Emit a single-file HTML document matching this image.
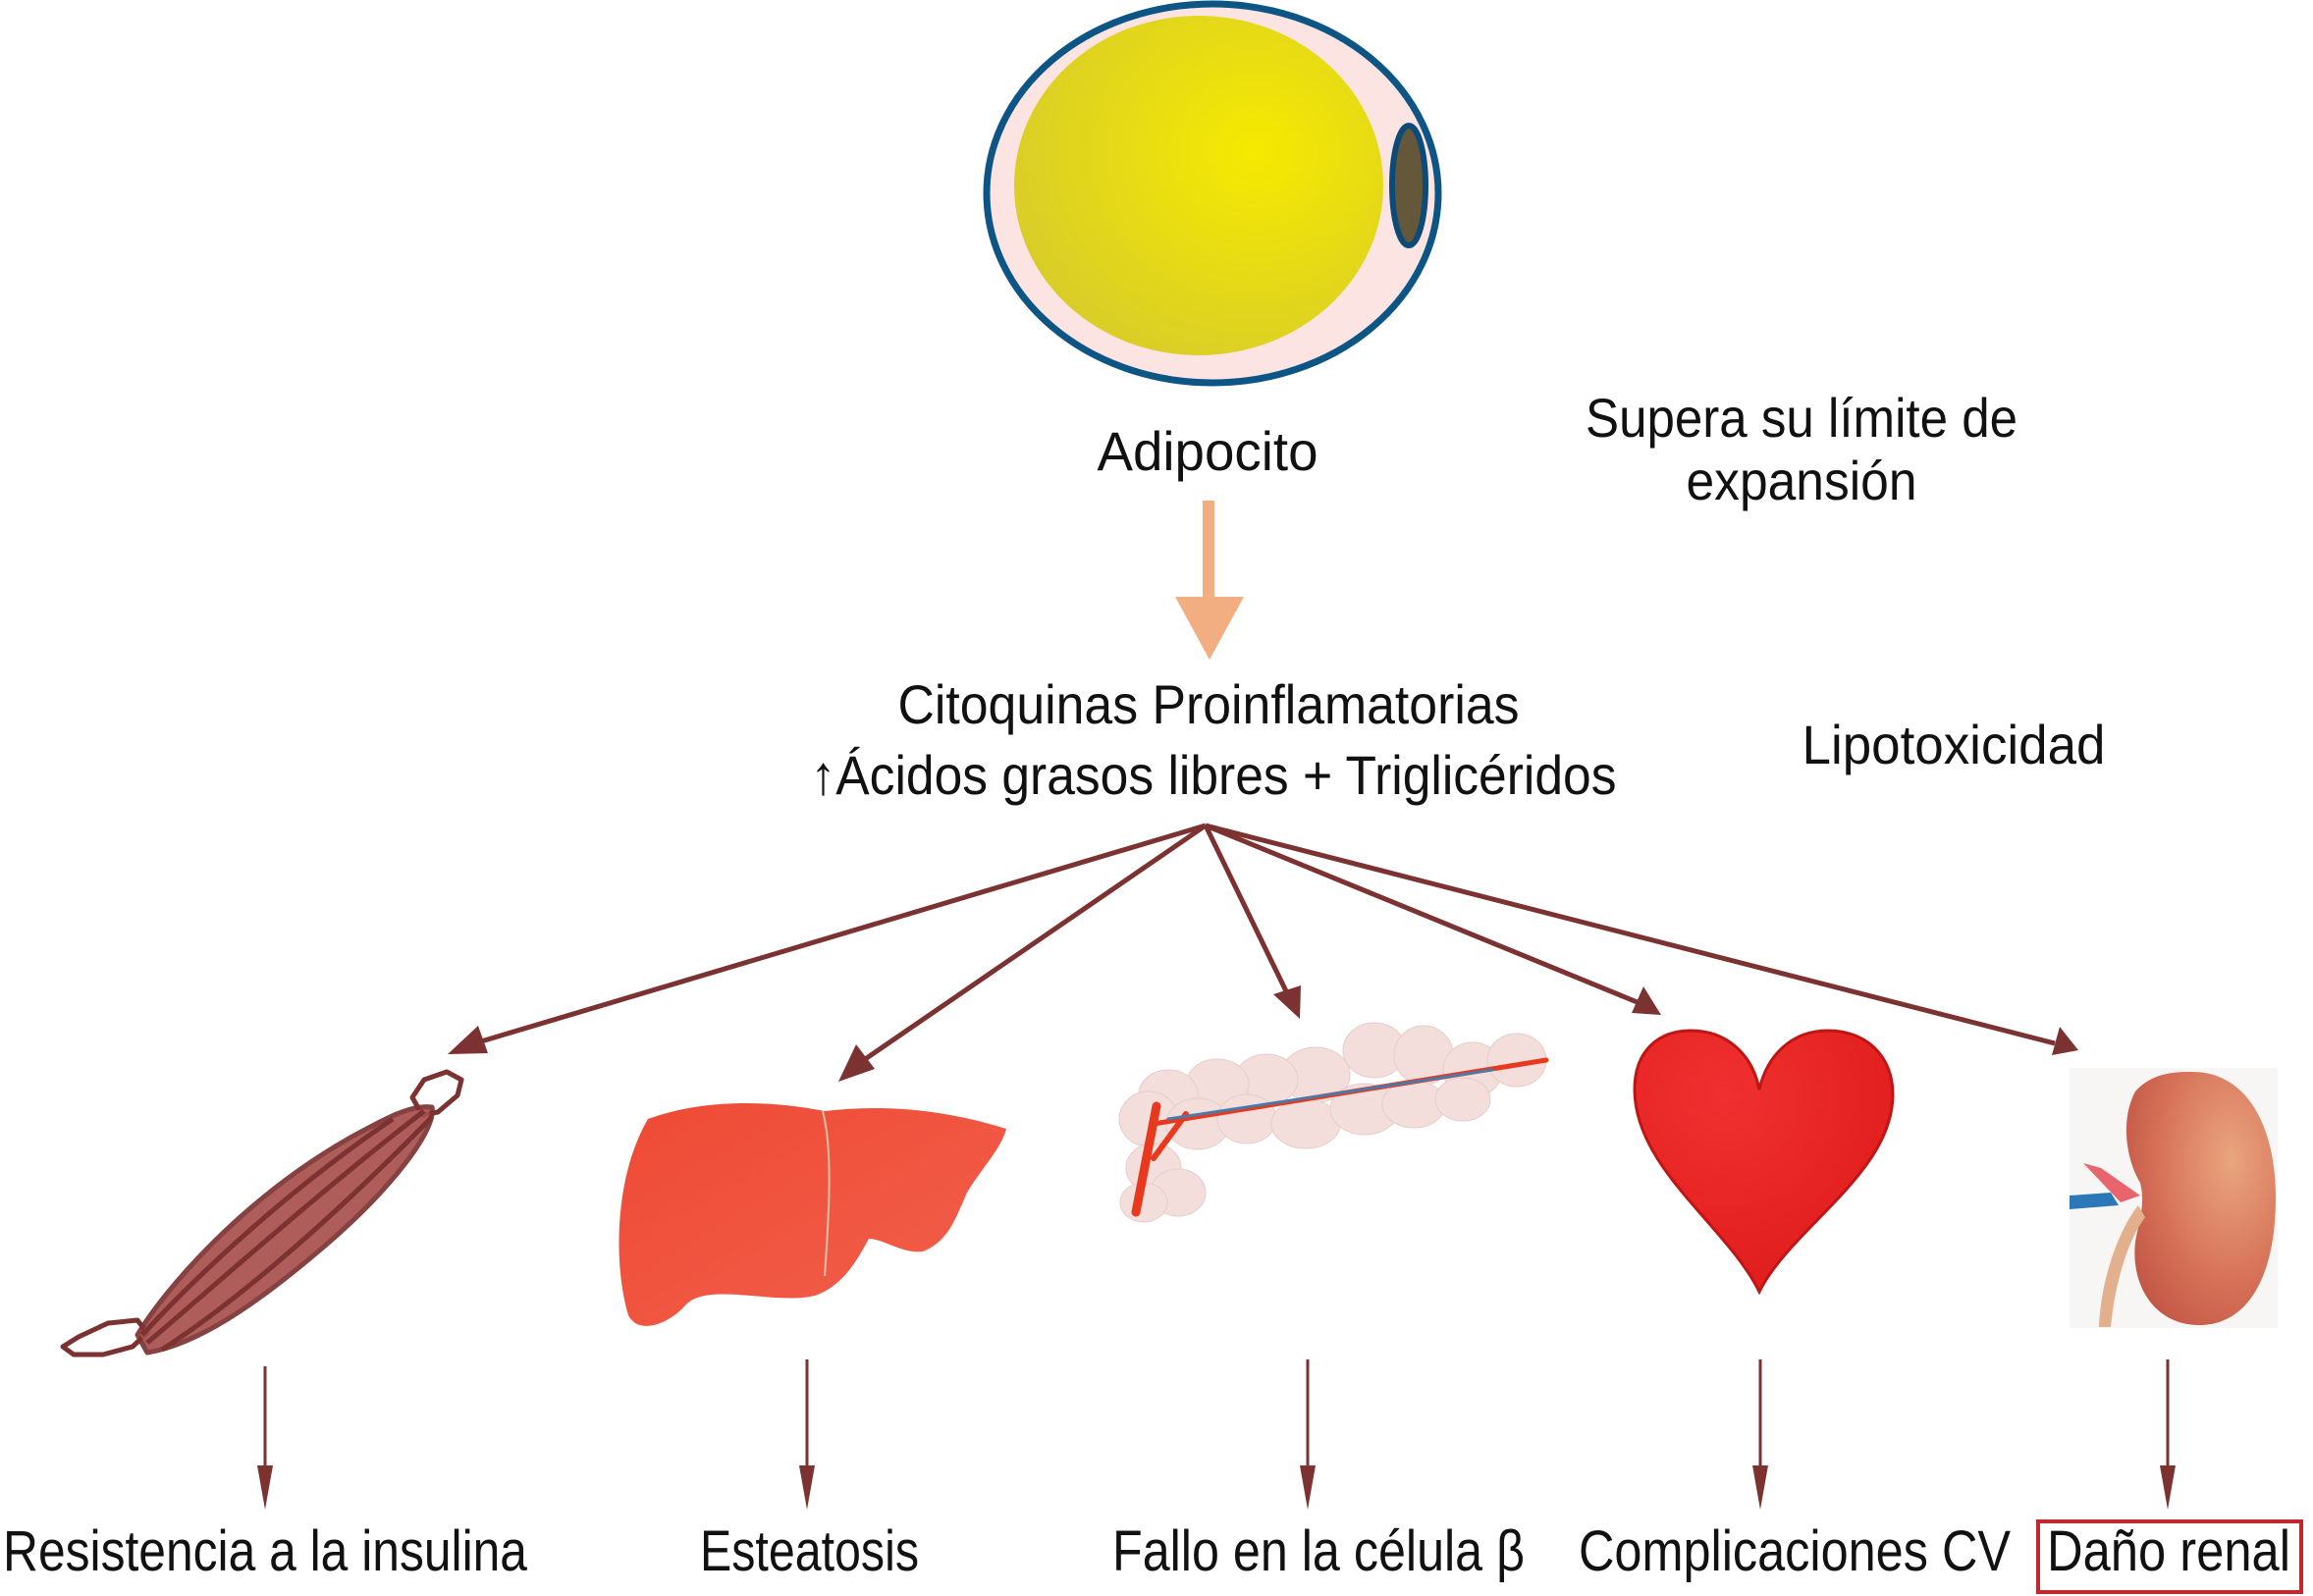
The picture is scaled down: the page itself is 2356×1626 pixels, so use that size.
<!DOCTYPE html>
<html><head><meta charset="utf-8"><style>
html,body{margin:0;padding:0;background:#fff;}
svg{display:block;}
text{font-family:"Liberation Sans",sans-serif;fill:#111;}
</style></head><body>
<svg width="2356" height="1626" viewBox="0 0 2356 1626" xmlns="http://www.w3.org/2000/svg">
<defs>
<radialGradient id="yel" cx="0.65" cy="0.4" r="0.7"><stop offset="0" stop-color="#f5ea00"/><stop offset="1" stop-color="#d8cc2a"/></radialGradient>
<radialGradient id="kid" cx="0.7" cy="0.35" r="0.8"><stop offset="0" stop-color="#e9a57f"/><stop offset="0.6" stop-color="#d67258"/><stop offset="1" stop-color="#c25545"/></radialGradient>
<linearGradient id="liv" x1="0" y1="0" x2="1" y2="1"><stop offset="0" stop-color="#ef4a35"/><stop offset="1" stop-color="#f0604c"/></linearGradient>
<radialGradient id="hrt" cx="0.35" cy="0.25" r="0.8"><stop offset="0" stop-color="#f03030"/><stop offset="1" stop-color="#e01c1c"/></radialGradient>
</defs>

<ellipse cx="1235" cy="197" rx="230" ry="193" fill="#fbe4e2" stroke="#0c5585" stroke-width="7"/>
<ellipse cx="1221" cy="189" rx="188" ry="173" fill="url(#yel)"/>
<ellipse cx="1435" cy="189" rx="17" ry="61" fill="#65583a" stroke="#0c4a78" stroke-width="6"/>

<text x="1230" y="479" font-size="56" text-anchor="middle" textLength="225" lengthAdjust="spacingAndGlyphs">Adipocito</text>
<text x="1835" y="445" font-size="56" text-anchor="middle" textLength="440" lengthAdjust="spacingAndGlyphs">Supera su límite de</text>
<text x="1835" y="509" font-size="56" text-anchor="middle" textLength="235" lengthAdjust="spacingAndGlyphs">expansión</text>

<rect x="1225" y="510" width="12" height="100" fill="#f2ae80"/>
<polygon points="1197,608 1267,608 1232,672" fill="#f2ae80"/>

<text x="1231" y="737" font-size="56" text-anchor="middle" textLength="633" lengthAdjust="spacingAndGlyphs">Citoquinas Proinflamatorias</text>
<text x="1236" y="809" font-size="56" text-anchor="middle" textLength="821" lengthAdjust="spacingAndGlyphs">↑Ácidos grasos libres + Triglicéridos</text>
<text x="1990" y="778" font-size="56" text-anchor="middle" textLength="309" lengthAdjust="spacingAndGlyphs">Lipotoxicidad</text>

<g stroke="#7b3230" stroke-width="5" fill="none">
<line x1="1228" y1="841" x2="480" y2="1064"/>
<line x1="1228" y1="841" x2="874" y2="1084"/>
<line x1="1228" y1="841" x2="1313" y2="1016"/>
<line x1="1228" y1="841" x2="1670" y2="1022"/>
<line x1="1228" y1="841" x2="2093" y2="1063"/>
</g>
<g fill="#7b3230">
<polygon points="456,1074 487,1045 497,1073"/>
<polygon points="854,1102 872,1064 891,1089"/>
<polygon points="1324,1038 1297,1013 1325,1004"/>
<polygon points="1692,1034 1674,1005 1662,1032"/>
<polygon points="2117,1070 2098,1046 2090,1075"/>
</g>

<!-- Muscle -->
<g stroke="#7b3230" stroke-width="5" stroke-linejoin="round">
<path d="M420,1118 L432,1100 L455,1092 L470,1100 L466,1116 L446,1133 L430,1136 Z" fill="#fff"/>
<path d="M80,1362 L110,1348 L140,1345 L150,1358 L135,1372 L105,1380 L75,1380 L64,1372 Z" fill="#fff"/>
<path d="M140,1360 C170,1310 250,1220 355,1160 C395,1138 420,1125 440,1128 C445,1150 400,1210 330,1270 C260,1330 200,1370 150,1378 Z" fill="#a8504d" opacity="0.92"/>
<path d="M150,1368 C230,1300 330,1210 432,1132" fill="none"/>
<path d="M145,1360 C200,1300 290,1215 400,1140" fill="none"/>
<path d="M165,1375 C250,1320 350,1230 440,1138" fill="none"/>
</g>

<path d="M660,1140 C720,1118 790,1122 840,1132 C900,1125 960,1130 1025,1150 C1020,1170 1000,1190 985,1215 C972,1245 965,1265 940,1275 C920,1278 900,1262 885,1262 C875,1280 860,1310 830,1320 C790,1330 720,1305 698,1330 C680,1350 650,1360 640,1340 C625,1290 625,1200 660,1140 Z" fill="url(#liv)"/>
<path d="M838,1132 C848,1170 845,1230 840,1300" stroke="#e8c0a0" stroke-width="2" fill="none"/>

<g fill="#f4dedc" stroke="#e6cccc" stroke-width="1">
<ellipse cx="1400" cy="1070" rx="32" ry="28"/><ellipse cx="1450" cy="1075" rx="30" ry="30"/>
<ellipse cx="1500" cy="1090" rx="30" ry="28"/><ellipse cx="1545" cy="1080" rx="30" ry="27"/>
<ellipse cx="1340" cy="1095" rx="35" ry="28"/><ellipse cx="1290" cy="1100" rx="32" ry="26"/>
<ellipse cx="1240" cy="1105" rx="32" ry="26"/><ellipse cx="1190" cy="1115" rx="30" ry="25"/>
<ellipse cx="1170" cy="1140" rx="30" ry="28"/><ellipse cx="1220" cy="1145" rx="32" ry="26"/>
<ellipse cx="1270" cy="1140" rx="30" ry="25"/><ellipse cx="1330" cy="1145" rx="35" ry="25"/>
<ellipse cx="1390" cy="1130" rx="35" ry="26"/><ellipse cx="1440" cy="1125" rx="32" ry="24"/>
<ellipse cx="1490" cy="1120" rx="28" ry="22"/><ellipse cx="1175" cy="1190" rx="28" ry="25"/>
<ellipse cx="1200" cy="1215" rx="28" ry="24"/><ellipse cx="1165" cy="1225" rx="24" ry="20"/>
</g>
<g stroke="#e8391f" fill="none" stroke-linecap="round">
<line x1="1178" y1="1127" x2="1157" y2="1235" stroke-width="9"/>
<line x1="1175" y1="1180" x2="1208" y2="1135" stroke-width="6"/>
<line x1="1175" y1="1145" x2="1575" y2="1080" stroke-width="5"/>
<line x1="1190" y1="1140" x2="1520" y2="1090" stroke="#4a7aa8" stroke-width="3"/>
</g>

<path d="M1792,1316 C1760,1250 1665,1190 1665,1110 C1665,1070 1690,1050 1722,1050 C1760,1050 1785,1075 1792,1110 C1800,1075 1825,1050 1862,1050 C1900,1050 1928,1075 1928,1115 C1928,1195 1825,1250 1792,1316 Z" fill="url(#hrt)" stroke="#c01515" stroke-width="3"/>

<rect x="2108" y="1088" width="212" height="265" fill="#f8f6f4"/>
<path d="M2230,1092 C2290,1090 2318,1150 2318,1220 C2318,1300 2290,1350 2240,1350 C2195,1350 2170,1310 2175,1265 C2180,1240 2185,1225 2180,1205 C2165,1180 2160,1140 2175,1112 C2190,1095 2210,1092 2230,1092 Z" fill="url(#kid)"/>
<path d="M2178,1228 C2160,1250 2140,1300 2138,1352 L2150,1352 C2155,1300 2170,1260 2185,1240 Z" fill="#e3b08e"/>
<path d="M2108,1218 L2150,1215 L2158,1228 L2108,1232 Z" fill="#2a78b8"/>
<path d="M2122,1185 L2140,1190 L2180,1218 L2160,1225 Z" fill="#e84a55" opacity="0.85"/>

<g stroke="#7b3230" stroke-width="3">
<line x1="270" y1="1392" x2="270" y2="1500"/>
<line x1="822" y1="1385" x2="822" y2="1500"/>
<line x1="1332" y1="1385" x2="1332" y2="1500"/>
<line x1="1793" y1="1385" x2="1793" y2="1500"/>
<line x1="2208" y1="1385" x2="2208" y2="1500"/>
</g>
<g fill="#7b3230">
<polygon points="262,1493 278,1493 270,1538"/>
<polygon points="814,1493 830,1493 822,1538"/>
<polygon points="1324,1493 1340,1493 1332,1538"/>
<polygon points="1785,1493 1801,1493 1793,1538"/>
<polygon points="2200,1493 2216,1493 2208,1538"/>
</g>

<text x="3" y="1600" font-size="58" textLength="534" lengthAdjust="spacingAndGlyphs">Resistencia a la insulina</text>
<text x="713" y="1600" font-size="58" textLength="223" lengthAdjust="spacingAndGlyphs">Esteatosis</text>
<text x="1133" y="1600" font-size="58" textLength="420" lengthAdjust="spacingAndGlyphs">Fallo en la célula β</text>
<text x="1608" y="1600" font-size="58" textLength="440" lengthAdjust="spacingAndGlyphs">Complicaciones CV</text>
<text x="2085" y="1600" font-size="58" textLength="248" lengthAdjust="spacingAndGlyphs">Daño renal</text>
<rect x="2076" y="1550" width="268" height="72" fill="none" stroke="#c0282d" stroke-width="4"/>
</svg>
</body></html>
